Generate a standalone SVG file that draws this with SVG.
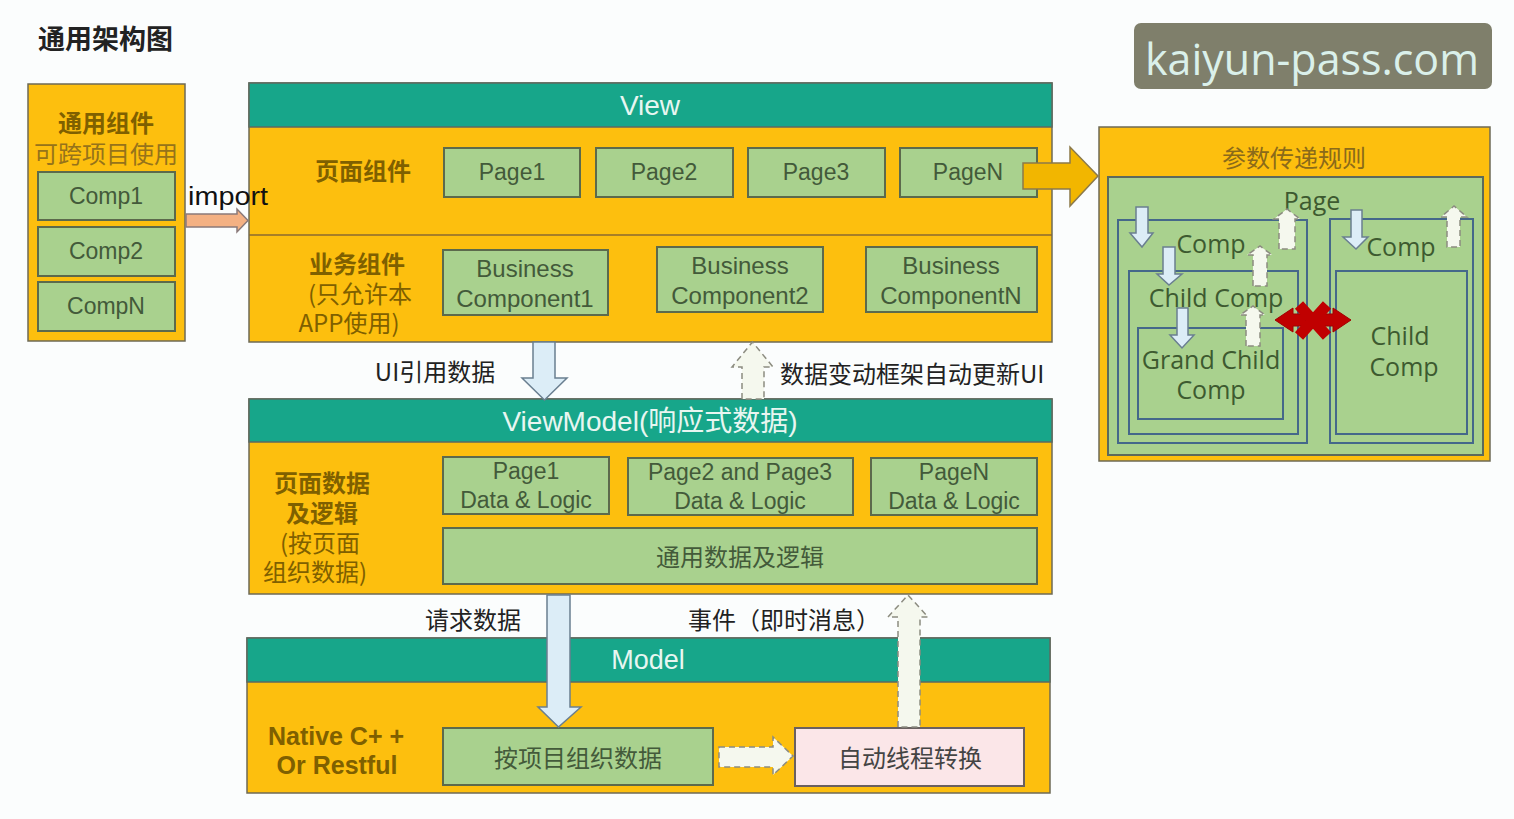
<svg xmlns="http://www.w3.org/2000/svg" width="1514" height="819" viewBox="0 0 1514 819">
<style>
.bg{fill:#fbfdfd}
.blk{fill:#FDBF0E;stroke:#6e6a55;stroke-width:1.5}
.hdr{fill:#17A68A;stroke:#5d6a60;stroke-width:1.5}
.hdrt{font-family:"Liberation Sans",Arial,"Noto Sans CJK SC",sans-serif;font-size:28px;fill:#e8f6f1;text-anchor:middle;dominant-baseline:central}
.gb{fill:#A9D18E;stroke:#5c6a4c;stroke-width:2}
.gt{font-family:"Liberation Sans",Arial,sans-serif;font-size:23px;fill:#435a3a;text-anchor:middle;dominant-baseline:central}
.cjk{font-family:"Noto Sans CJK SC",sans-serif;font-size:24px;dominant-baseline:central}
.lbl{fill:#7f6000;text-anchor:middle}
.bold{font-weight:bold}
.dark{fill:#222}
.nest{fill:none;stroke:#45688a;stroke-width:2}
.rt{font-family:"Open Sans","Noto Sans",sans-serif;font-size:25px;fill:#3d5a30;text-anchor:middle;dominant-baseline:central}
.blue{fill:#dcedf7;stroke:#6a7f90;stroke-width:1.5}
.up{fill:#f5f8ee;stroke:#8c8c80;stroke-width:1.5;stroke-dasharray:6 4}
</style>
<rect class="bg" x="0" y="0" width="1514" height="819"/>

<text id="title" x="38" y="37" class="cjk bold dark" style="font-size:27px">通用架构图</text>

<g id="watermark">
<rect x="1134" y="23" width="358" height="66" rx="7" fill="#7f7f6b"/>
<text x="1145" y="58" font-family="Open Sans,Noto Sans,sans-serif" font-size="44" fill="#daf0ea" dominant-baseline="central" textLength="334" lengthAdjust="spacingAndGlyphs">kaiyun-pass.com</text>
</g>

<g id="common-components">
<rect class="blk" x="28" y="84" width="157" height="257"/>
<text x="106" y="121" class="cjk bold lbl">通用组件</text>
<text x="106" y="152" class="cjk lbl" style="fill:#96731a">可跨项目使用</text>
<g id="comp1"><rect class="gb" x="38" y="172" width="137" height="48"/><text x="106" y="196" class="gt">Comp1</text></g>
<g id="comp2"><rect class="gb" x="38" y="227" width="137" height="49"/><text x="106" y="251" class="gt">Comp2</text></g>
<g id="compN"><rect class="gb" x="38" y="282" width="137" height="49"/><text x="106" y="306" class="gt">CompN</text></g>
</g>

<g id="view">
<rect class="blk" x="249" y="83" width="803" height="259"/>
<rect class="hdr" x="249" y="83" width="803" height="44"/>
<line x1="249" y1="235" x2="1052" y2="235" stroke="#8a6a30" stroke-width="1.5"/>
<text x="650" y="105" class="hdrt">View</text>
<text x="363" y="169" class="cjk bold lbl">页面组件</text>
<g id="page1"><rect class="gb" x="444" y="148" width="136" height="49"/><text x="512" y="172" class="gt">Page1</text></g>
<g id="page2"><rect class="gb" x="596" y="148" width="137" height="49"/><text x="664" y="172" class="gt">Page2</text></g>
<g id="page3"><rect class="gb" x="748" y="148" width="137" height="49"/><text x="816" y="172" class="gt">Page3</text></g>
<g id="pageN"><rect class="gb" x="900" y="148" width="137" height="49"/><text x="968" y="172" class="gt">PageN</text></g>
<text x="357" y="262" class="cjk bold lbl">业务组件</text>
<text x="360" y="292" class="cjk lbl">(只允许本</text>
<text x="349" y="321" class="cjk lbl">APP使用)</text>
<g id="bc1"><rect class="gb" x="443" y="250" width="165" height="65"/><text x="525" y="268" class="gt" style="font-size:24px">Business</text><text x="525" y="298" class="gt" style="font-size:24px">Component1</text></g>
<g id="bc2"><rect class="gb" x="657" y="247" width="166" height="65"/><text x="740" y="265" class="gt" style="font-size:24px">Business</text><text x="740" y="295" class="gt" style="font-size:24px">Component2</text></g>
<g id="bcN"><rect class="gb" x="866" y="247" width="171" height="65"/><text x="951" y="265" class="gt" style="font-size:24px">Business</text><text x="951" y="295" class="gt" style="font-size:24px">ComponentN</text></g>
</g>

<g id="viewmodel">
<rect class="blk" x="249" y="399" width="803" height="195"/>
<rect class="hdr" x="249" y="399" width="803" height="43"/>
<text x="650" y="421" class="hdrt">ViewModel(响应式数据)</text>
<text x="322" y="481" class="cjk bold lbl">页面数据</text>
<text x="322" y="511" class="cjk bold lbl">及逻辑</text>
<text x="320" y="541" class="cjk lbl">(按页面</text>
<text x="315" y="570" class="cjk lbl">组织数据)</text>
<g id="p1dl"><rect class="gb" x="443" y="457" width="166" height="57"/><text x="526" y="471" class="gt">Page1</text><text x="526" y="500" class="gt">Data &amp; Logic</text></g>
<g id="p23dl"><rect class="gb" x="628" y="458" width="225" height="57"/><text x="740" y="472" class="gt">Page2 and Page3</text><text x="740" y="501" class="gt">Data &amp; Logic</text></g>
<g id="pNdl"><rect class="gb" x="871" y="458" width="166" height="57"/><text x="954" y="472" class="gt">PageN</text><text x="954" y="501" class="gt">Data &amp; Logic</text></g>
<g id="common-data"><rect class="gb" x="443" y="528" width="594" height="56"/><text x="740" y="555" class="cjk" style="fill:#435a3a;text-anchor:middle">通用数据及逻辑</text></g>
</g>

<g id="model">
<rect class="blk" x="247" y="638" width="803" height="155"/>
<rect class="hdr" x="247" y="638" width="803" height="44"/>
<text x="648" y="660" class="hdrt" style="font-size:27px">Model</text>
<text x="336" y="736" font-family="Liberation Sans,Arial,sans-serif" font-weight="bold" font-size="25" fill="#7f6000" text-anchor="middle" dominant-baseline="central" textLength="136" lengthAdjust="spacing">Native C+ +</text>
<text x="337" y="765" font-family="Liberation Sans,Arial,sans-serif" font-weight="bold" font-size="25" fill="#7f6000" text-anchor="middle" dominant-baseline="central">Or Restful</text>
<g id="org-data"><rect class="gb" x="443" y="728" width="270" height="57"/><text x="578" y="756" class="cjk" style="fill:#435a3a;text-anchor:middle">按项目组织数据</text></g>
<g id="thread"><rect x="795" y="728" width="229" height="58" fill="#fbe6e8" stroke="#6a6060" stroke-width="2"/><text x="910" y="756" class="cjk" style="fill:#444;text-anchor:middle">自动线程转换</text></g>
</g>

<g id="param-rules">
<rect class="blk" x="1099" y="127" width="391" height="334"/>
<text x="1294" y="156" class="cjk lbl" style="fill:#8a6a1a">参数传递规则</text>
<rect x="1108" y="177" width="375" height="278" fill="#A9D18E" stroke="#5c6a5c" stroke-width="2"/>
<text x="1312" y="200" class="rt">Page</text>
<rect class="nest" x="1118" y="220" width="189" height="223"/>
<rect class="nest" x="1129" y="271" width="169" height="163"/>
<rect class="nest" x="1138" y="328" width="145" height="91"/>
<rect class="nest" x="1330" y="219" width="143" height="224"/>
<rect class="nest" x="1336" y="271" width="131" height="163"/>
<text x="1211" y="243" class="rt">Comp</text>
<text x="1216" y="297" class="rt">Child Comp</text>
<text x="1211" y="359" class="rt">Grand Child</text>
<text x="1211" y="389" class="rt">Comp</text>
<text x="1401" y="246" class="rt">Comp</text>
<text x="1400" y="335" class="rt">Child</text>
<text x="1404" y="366" class="rt">Comp</text>
</g>

<g id="connectors">
<polygon points="186,214 237,214 237,209 248,220.5 237,232 237,227 186,227" fill="#f4b183" stroke="#8a7a7a" stroke-width="1.5"/>
<text x="188" y="205" font-family="Liberation Sans,Arial,sans-serif" font-size="26" fill="#111" textLength="80" lengthAdjust="spacingAndGlyphs">import</text>

<polygon points="1023,163 1070,163 1070,147 1098,176 1070,206 1070,189 1023,189" fill="#f2b600" stroke="#8c7a4a" stroke-width="1.5"/>

<polygon class="blue" points="533,342 555,342 555,378 567,378 544.5,400 522,378 533,378"/>
<text x="435" y="370" class="cjk dark" style="text-anchor:middle">UI引用数据</text>

<polygon class="up" points="742,399 742,367 732,367 752.5,342 773,367 764,367 764,399"/>
<text x="780" y="372" class="cjk dark">数据变动框架自动更新UI</text>

<polygon class="blue" points="547,595 570,595 570,707 581,707 558.5,727 538,707 547,707"/>
<text x="473" y="618" class="cjk dark" style="text-anchor:middle">请求数据</text>

<polygon class="up" points="898,727 898,617 888,617 908,595 928,617 920,617 920,727"/>
<text x="688" y="618" class="cjk dark">事件（即时消息）</text>

<polygon class="up" points="719,747 773,747 773,737 793,756 773,775 773,767 719,767"/>

<polygon class="blue" points="1136,207 1148,207 1148,233 1153,233 1142,247 1130,233 1136,233"/>
<polygon class="blue" points="1163,247 1175,247 1175,274 1182,274 1169,285 1157,274 1163,274"/>
<polygon class="blue" points="1177,308 1188,308 1188,335 1194,335 1182,348 1170,335 1177,335"/>
<polygon class="blue" points="1351,210 1362,210 1362,237 1368,237 1356,249 1343,237 1351,237"/>

<polygon class="up" points="1279,249 1279,219 1274,219 1287,209 1300,219 1295,219 1295,249"/>
<polygon class="up" points="1253,286 1253,255 1247,255 1260,246 1272,255 1267,255 1267,286"/>
<polygon class="up" points="1246,346 1246,315 1240,315 1253,306 1265,315 1260,315 1260,346"/>
<polygon class="up" points="1447,247 1447,217 1441,217 1454,206 1467,217 1460,217 1460,247"/>

<g fill="#c00000" stroke="#a00000" stroke-width="1">
<polygon points="1275,320 1293,308 1293,314 1306,314 1306,326 1293,326 1293,332"/>
<polygon points="1351,320 1333,308 1333,314 1320,314 1320,326 1333,326 1333,332"/>
</g>
<path d="M1299,305 L1327,336 M1327,305 L1299,336" stroke="#c00000" stroke-width="11"/>
</g>
</svg>
